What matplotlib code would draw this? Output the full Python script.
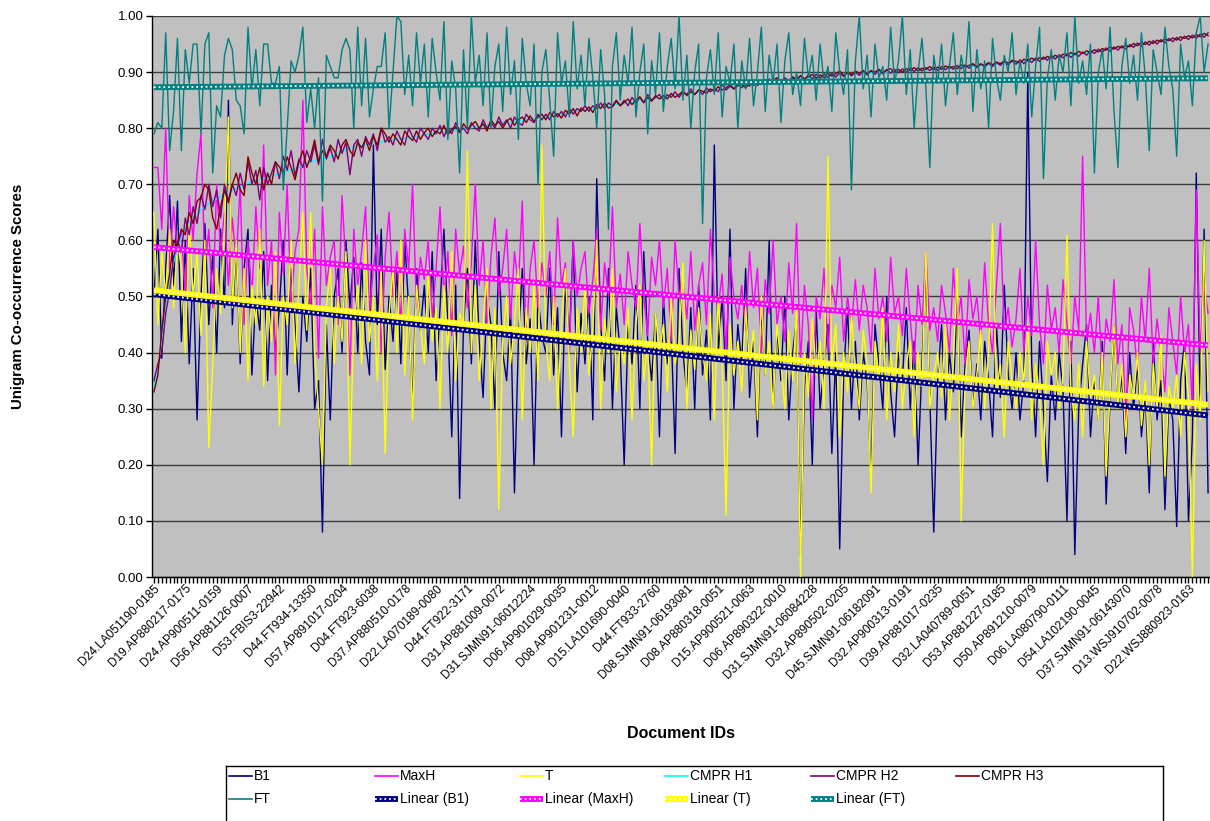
import numpy as np
import matplotlib
matplotlib.use("Agg")
import matplotlib.pyplot as plt
from matplotlib.ticker import FormatStrFormatter, FixedLocator

plt.rcParams['font.family'] = ['Liberation Sans', 'DejaVu Sans']

# ---------------- data ----------------
tick_labels = [
    "D24.LA051190-0185", "D19.AP880217-0175", "D24.AP900511-0159", "D56.AP881126-0007",
    "D53.FBIS3-22942", "D44.FT934-13350", "D57.AP891017-0204", "D04.FT923-6038",
    "D37.AP880510-0178", "D22.LA070189-0080", "D44.FT922-3171", "D31.AP881009-0072",
    "D31.SJMN91-06012224", "D06.AP901029-0035", "D08.AP901231-0012", "D15.LA101690-0040",
    "D44.FT933-2760", "D08.SJMN91-06193081", "D08.AP880318-0051", "D15.AP900521-0063",
    "D06.AP890322-0010", "D31.SJMN91-06084228", "D32.AP890502-0205", "D45.SJMN91-06182091",
    "D32.AP900313-0191", "D39.AP881017-0235", "D32.LA040789-0051", "D53.AP881227-0185",
    "D50.AP891210-0079", "D06.LA080790-0111", "D54.LA102190-0045", "D37.SJMN91-06143070",
    "D13.WSJ910702-0078", "D22.WSJ880923-0163",
]

b1 = [
    0.50, 0.62, 0.39, 0.55, 0.68, 0.52, 0.67, 0.42, 0.60, 0.38,
    0.55, 0.28, 0.50, 0.63, 0.45, 0.58, 0.40, 0.62, 0.48, 0.85,
    0.45, 0.60, 0.38, 0.55, 0.62, 0.36, 0.50, 0.44, 0.58, 0.35,
    0.52, 0.40, 0.48, 0.60, 0.36, 0.55, 0.45, 0.33, 0.50, 0.42,
    0.55, 0.30, 0.35, 0.08, 0.45, 0.28, 0.50, 0.55, 0.40, 0.60,
    0.48, 0.57, 0.40, 0.56, 0.42, 0.36, 0.77, 0.45, 0.62, 0.37,
    0.50, 0.42, 0.55, 0.38, 0.60, 0.48, 0.30, 0.55, 0.44, 0.52,
    0.40, 0.58, 0.35, 0.48, 0.62, 0.45, 0.25, 0.52, 0.14, 0.45,
    0.55, 0.38, 0.60, 0.42, 0.32, 0.50, 0.45, 0.30, 0.58, 0.40,
    0.35, 0.48, 0.15, 0.42, 0.55, 0.38, 0.46, 0.20, 0.50, 0.43,
    0.40, 0.55, 0.36, 0.48, 0.25, 0.52, 0.42, 0.60, 0.33, 0.47,
    0.38, 0.50, 0.28, 0.71, 0.45, 0.35, 0.55, 0.30, 0.48, 0.40,
    0.20, 0.45, 0.38, 0.52, 0.30, 0.58, 0.42, 0.35, 0.47, 0.25,
    0.50, 0.38, 0.44, 0.22, 0.55, 0.40, 0.33, 0.48, 0.30, 0.52,
    0.36, 0.44, 0.28, 0.77, 0.40, 0.50, 0.35, 0.62, 0.30, 0.45,
    0.38, 0.55, 0.32, 0.42, 0.25, 0.48, 0.36, 0.60, 0.30, 0.44,
    0.35, 0.50, 0.28, 0.40, 0.46, 0.04, 0.34, 0.42, 0.20, 0.48,
    0.30, 0.38, 0.45, 0.22, 0.40, 0.05, 0.36, 0.48, 0.30, 0.42,
    0.28, 0.40, 0.35, 0.18, 0.45, 0.38, 0.30, 0.50, 0.33, 0.25,
    0.40, 0.35, 0.48, 0.30, 0.42, 0.20, 0.38, 0.55, 0.32, 0.08,
    0.35, 0.45, 0.28, 0.40, 0.33, 0.50, 0.25, 0.38, 0.44, 0.30,
    0.38, 0.28, 0.42, 0.35, 0.25, 0.45, 0.32, 0.52, 0.36, 0.30,
    0.40, 0.28, 0.35, 0.90, 0.38, 0.25, 0.42, 0.30, 0.17, 0.36,
    0.28, 0.40, 0.33, 0.10, 0.42, 0.04, 0.30, 0.38, 0.45, 0.25,
    0.35, 0.28, 0.42, 0.13, 0.32, 0.45, 0.30, 0.36, 0.22, 0.40,
    0.30, 0.38, 0.25, 0.33, 0.15, 0.42, 0.28, 0.35, 0.12, 0.32,
    0.28, 0.09, 0.35, 0.42, 0.10, 0.25, 0.72, 0.30, 0.62, 0.15,
]

maxh = [
    0.73, 0.73, 0.62, 0.80, 0.55, 0.66, 0.58, 0.62, 0.50, 0.68,
    0.60, 0.72, 0.79, 0.55, 0.62, 0.48, 0.70, 0.58, 0.65, 0.52,
    0.64, 0.56, 0.70, 0.45, 0.60, 0.50, 0.66, 0.55, 0.77, 0.52,
    0.60, 0.36, 0.65, 0.54, 0.70, 0.48, 0.58, 0.62, 0.85, 0.55,
    0.48, 0.62, 0.39, 0.66, 0.52, 0.57, 0.60, 0.45, 0.68, 0.55,
    0.36, 0.62, 0.52, 0.58, 0.66, 0.47, 0.55, 0.61, 0.40, 0.57,
    0.65, 0.50, 0.58, 0.45, 0.62, 0.55, 0.70, 0.48, 0.57, 0.53,
    0.60, 0.46, 0.55, 0.66, 0.50, 0.58, 0.43, 0.62, 0.54, 0.59,
    0.48, 0.56, 0.70, 0.52, 0.60, 0.45, 0.57, 0.64, 0.50, 0.55,
    0.62, 0.46, 0.58, 0.52, 0.67, 0.42, 0.55, 0.60, 0.48, 0.56,
    0.50, 0.58, 0.45, 0.64, 0.52, 0.56, 0.40, 0.60, 0.50, 0.55,
    0.58, 0.47, 0.53, 0.62, 0.44, 0.56, 0.50, 0.66, 0.48, 0.54,
    0.45, 0.58, 0.52, 0.48, 0.63, 0.50, 0.43, 0.57, 0.52, 0.60,
    0.48, 0.55, 0.42, 0.60, 0.50, 0.53, 0.46, 0.58, 0.44, 0.52,
    0.56, 0.45, 0.62, 0.50, 0.48, 0.54, 0.40, 0.57, 0.50, 0.46,
    0.52, 0.44, 0.58, 0.48, 0.55, 0.40, 0.53, 0.47, 0.60, 0.45,
    0.50, 0.42, 0.56, 0.47, 0.63, 0.38, 0.52, 0.45, 0.28, 0.50,
    0.46, 0.55, 0.40, 0.52, 0.48, 0.57, 0.42, 0.50, 0.45, 0.53,
    0.44, 0.52, 0.48, 0.40, 0.55, 0.46, 0.50, 0.42, 0.57, 0.47,
    0.50, 0.43, 0.55, 0.46, 0.38, 0.52, 0.45, 0.58, 0.44, 0.48,
    0.42, 0.52, 0.47, 0.40, 0.55, 0.45, 0.50, 0.38, 0.53, 0.46,
    0.50, 0.42, 0.56, 0.45, 0.40, 0.52, 0.63, 0.44, 0.48, 0.41,
    0.46, 0.55, 0.40, 0.50, 0.43, 0.60, 0.45, 0.38, 0.52, 0.44,
    0.48, 0.40, 0.53, 0.45, 0.38, 0.50, 0.44, 0.75, 0.42, 0.47,
    0.40, 0.50, 0.36, 0.46, 0.42, 0.53, 0.38, 0.45, 0.28, 0.48,
    0.44, 0.37, 0.50, 0.42, 0.55, 0.38, 0.46, 0.40, 0.33, 0.48,
    0.42, 0.36, 0.50, 0.40, 0.45, 0.30, 0.69, 0.40, 0.52, 0.47,
]

t_scores = [
    0.65, 0.45, 0.58, 0.50, 0.62, 0.48, 0.60, 0.55, 0.40, 0.63,
    0.50, 0.58, 0.43, 0.60, 0.23, 0.38, 0.55, 0.47, 0.62, 0.82,
    0.48, 0.60, 0.40, 0.55, 0.35, 0.52, 0.45, 0.62, 0.34, 0.50,
    0.42, 0.58, 0.27, 0.50, 0.45, 0.60, 0.38, 0.52, 0.65, 0.44,
    0.65, 0.40, 0.30, 0.20, 0.48, 0.55, 0.38, 0.50, 0.42, 0.58,
    0.20, 0.45, 0.52, 0.38, 0.60, 0.42, 0.50, 0.35, 0.55, 0.22,
    0.47, 0.55, 0.40, 0.60, 0.36, 0.50, 0.28, 0.52, 0.45, 0.38,
    0.55, 0.42, 0.48, 0.30, 0.52, 0.40, 0.58, 0.35, 0.47, 0.45,
    0.76, 0.40, 0.52, 0.35, 0.45, 0.55, 0.30, 0.48, 0.12, 0.42,
    0.50, 0.38, 0.45, 0.55, 0.28, 0.48, 0.40, 0.52, 0.35, 0.77,
    0.42, 0.35, 0.50, 0.30, 0.45, 0.55, 0.38, 0.25, 0.48, 0.40,
    0.52, 0.36, 0.44, 0.60, 0.30, 0.46, 0.40, 0.55, 0.33, 0.42,
    0.38, 0.48, 0.28, 0.45, 0.52, 0.35, 0.42, 0.20, 0.47, 0.40,
    0.45, 0.33, 0.50, 0.38, 0.42, 0.56, 0.30, 0.44, 0.37, 0.48,
    0.40, 0.35, 0.47, 0.28, 0.50, 0.38, 0.11, 0.45, 0.36, 0.42,
    0.33, 0.48, 0.38, 0.44, 0.28, 0.50, 0.36, 0.42, 0.30, 0.45,
    0.38, 0.30, 0.44, 0.35, 0.48, 0.00, 0.40, 0.32, 0.46, 0.36,
    0.42, 0.30, 0.75, 0.38, 0.45, 0.25, 0.40, 0.33, 0.47, 0.36,
    0.30, 0.44, 0.38, 0.15, 0.42, 0.35, 0.48, 0.28, 0.40, 0.33,
    0.45, 0.30, 0.38, 0.42, 0.25, 0.40, 0.34, 0.58, 0.30, 0.36,
    0.40, 0.32, 0.45, 0.28, 0.38, 0.55, 0.10, 0.35, 0.42, 0.30,
    0.36, 0.44, 0.30, 0.40, 0.63, 0.33, 0.38, 0.25, 0.42, 0.35,
    0.30, 0.40, 0.35, 0.45, 0.28, 0.38, 0.32, 0.20, 0.42, 0.36,
    0.40, 0.30, 0.36, 0.61, 0.33, 0.28, 0.38, 0.25, 0.42, 0.32,
    0.36, 0.28, 0.40, 0.18, 0.33, 0.45, 0.30, 0.38, 0.25, 0.36,
    0.32, 0.40, 0.27, 0.35, 0.20, 0.38, 0.30, 0.43, 0.18, 0.34,
    0.30, 0.36, 0.25, 0.40, 0.32, 0.00, 0.38, 0.28, 0.60, 0.33,
]

cmpr_h1 = [
    0.340, 0.370, 0.420, 0.480, 0.530, 0.560, 0.585, 0.605, 0.620, 0.630,
    0.640, 0.648, 0.655, 0.660, 0.665, 0.670, 0.674, 0.678, 0.682, 0.686,
    0.690, 0.693, 0.696, 0.699, 0.702, 0.705, 0.707, 0.709, 0.711, 0.713,
    0.715, 0.717, 0.719, 0.721, 0.723, 0.725, 0.728, 0.731, 0.734, 0.737,
    0.740, 0.742, 0.744, 0.746, 0.748, 0.750, 0.753, 0.756, 0.759, 0.762,
    0.765, 0.766, 0.768, 0.769, 0.770, 0.772, 0.773, 0.774, 0.776, 0.777,
    0.778, 0.779, 0.780, 0.781, 0.782, 0.783, 0.784, 0.786, 0.787, 0.788,
    0.790, 0.791, 0.792, 0.793, 0.794, 0.795, 0.796, 0.797, 0.798, 0.799,
    0.800, 0.801, 0.802, 0.803, 0.804, 0.805, 0.806, 0.807, 0.808, 0.809,
    0.810, 0.811, 0.812, 0.813, 0.814, 0.815, 0.816, 0.817, 0.818, 0.819,
    0.820, 0.821, 0.822, 0.824, 0.825, 0.826, 0.828, 0.829, 0.830, 0.832,
    0.833, 0.834, 0.835, 0.836, 0.838, 0.839, 0.840, 0.841, 0.842, 0.843,
    0.845, 0.846, 0.847, 0.848, 0.849, 0.850, 0.851, 0.852, 0.853, 0.854,
    0.855, 0.856, 0.857, 0.858, 0.859, 0.860, 0.861, 0.862, 0.863, 0.864,
    0.865, 0.866, 0.867, 0.868, 0.869, 0.870, 0.871, 0.872, 0.873, 0.874,
    0.875, 0.876, 0.877, 0.878, 0.879, 0.880, 0.881, 0.882, 0.883, 0.884,
    0.885, 0.886, 0.886, 0.887, 0.888, 0.889, 0.889, 0.890, 0.891, 0.891,
    0.892, 0.893, 0.893, 0.894, 0.894, 0.895, 0.895, 0.896, 0.896, 0.897,
    0.897, 0.898, 0.898, 0.899, 0.899, 0.900, 0.900, 0.900, 0.901, 0.901,
    0.902, 0.902, 0.902, 0.903, 0.903, 0.904, 0.904, 0.904, 0.905, 0.905,
    0.906, 0.906, 0.907, 0.907, 0.908, 0.908, 0.909, 0.909, 0.910, 0.910,
    0.911, 0.911, 0.912, 0.913, 0.913, 0.914, 0.915, 0.915, 0.916, 0.917,
    0.918, 0.918, 0.919, 0.920, 0.921, 0.922, 0.923, 0.924, 0.925, 0.926,
    0.927, 0.928, 0.929, 0.930, 0.931, 0.932, 0.933, 0.934, 0.935, 0.936,
    0.938, 0.939, 0.940, 0.941, 0.942, 0.943, 0.944, 0.945, 0.946, 0.947,
    0.949, 0.950, 0.951, 0.952, 0.953, 0.954, 0.955, 0.956, 0.957, 0.958,
    0.959, 0.960, 0.961, 0.962, 0.963, 0.964, 0.965, 0.966, 0.967, 0.968,
]

cmpr_h2 = [
    0.350, 0.380, 0.400, 0.470, 0.510, 0.570, 0.600, 0.580, 0.640, 0.610,
    0.660, 0.630, 0.680, 0.655, 0.700, 0.660, 0.690, 0.640, 0.700, 0.670,
    0.700, 0.680, 0.720, 0.690, 0.740, 0.700, 0.725, 0.672, 0.730, 0.700,
    0.720, 0.740, 0.710, 0.750, 0.725, 0.760, 0.715, 0.745, 0.730, 0.760,
    0.740, 0.770, 0.735, 0.780, 0.745, 0.765, 0.740, 0.780, 0.755, 0.775,
    0.717, 0.770, 0.780, 0.750, 0.785, 0.770, 0.790, 0.760, 0.800, 0.775,
    0.785, 0.770, 0.795, 0.780, 0.770, 0.800, 0.785, 0.775, 0.800, 0.790,
    0.780, 0.800, 0.790, 0.805, 0.785, 0.800, 0.790, 0.810, 0.795, 0.800,
    0.790, 0.810, 0.800, 0.795, 0.815, 0.800, 0.810, 0.800, 0.820, 0.805,
    0.815, 0.800, 0.820, 0.810, 0.805, 0.825, 0.815, 0.810, 0.825, 0.815,
    0.825, 0.815, 0.830, 0.820, 0.830, 0.820, 0.835, 0.825, 0.835, 0.830,
    0.840, 0.830, 0.840, 0.835, 0.845, 0.835, 0.845, 0.840, 0.850, 0.840,
    0.850, 0.840, 0.855, 0.845, 0.855, 0.845, 0.860, 0.850, 0.855, 0.860,
    0.850, 0.860, 0.855, 0.865, 0.855, 0.865, 0.860, 0.870, 0.860, 0.868,
    0.860, 0.872, 0.865, 0.870, 0.865, 0.878, 0.868, 0.875, 0.870, 0.880,
    0.872, 0.880, 0.875, 0.885, 0.876, 0.882, 0.878, 0.888, 0.880, 0.886,
    0.882, 0.890, 0.884, 0.892, 0.886, 0.893, 0.887, 0.895, 0.888, 0.896,
    0.889, 0.897, 0.890, 0.898, 0.891, 0.899, 0.892, 0.900, 0.893, 0.900,
    0.894, 0.902, 0.895, 0.903, 0.896, 0.904, 0.897, 0.905, 0.898, 0.905,
    0.899, 0.906, 0.900, 0.907, 0.901, 0.908, 0.902, 0.908, 0.903, 0.909,
    0.903, 0.910, 0.904, 0.911, 0.905, 0.912, 0.906, 0.913, 0.907, 0.914,
    0.908, 0.915, 0.909, 0.916, 0.910, 0.917, 0.912, 0.919, 0.913, 0.920,
    0.914, 0.922, 0.915, 0.923, 0.917, 0.925, 0.919, 0.927, 0.921, 0.929,
    0.923, 0.931, 0.925, 0.933, 0.926, 0.934, 0.928, 0.936, 0.930, 0.938,
    0.933, 0.941, 0.935, 0.943, 0.937, 0.945, 0.939, 0.947, 0.941, 0.949,
    0.944, 0.952, 0.946, 0.954, 0.948, 0.956, 0.950, 0.958, 0.952, 0.960,
    0.954, 0.962, 0.956, 0.964, 0.958, 0.966, 0.960, 0.968, 0.962, 0.970,
]

cmpr_h3 = [
    0.330, 0.360, 0.440, 0.500, 0.540, 0.600, 0.590, 0.620, 0.610, 0.650,
    0.630, 0.670, 0.677, 0.700, 0.690, 0.640, 0.620, 0.660, 0.690, 0.667,
    0.700, 0.720, 0.690, 0.680, 0.749, 0.720, 0.700, 0.730, 0.690, 0.720,
    0.700, 0.740, 0.731, 0.720, 0.749, 0.730, 0.708, 0.740, 0.760, 0.730,
    0.750, 0.779, 0.740, 0.760, 0.750, 0.770, 0.760, 0.745, 0.770, 0.780,
    0.760, 0.750, 0.775, 0.765, 0.780, 0.760, 0.785, 0.770, 0.800, 0.790,
    0.775, 0.790, 0.780, 0.770, 0.795, 0.785, 0.778, 0.795, 0.780, 0.792,
    0.800, 0.785, 0.795, 0.790, 0.805, 0.788, 0.798, 0.803, 0.792, 0.808,
    0.798, 0.805, 0.812, 0.800, 0.808, 0.795, 0.815, 0.805, 0.812, 0.800,
    0.812, 0.818, 0.805, 0.815, 0.820, 0.810, 0.822, 0.812, 0.820, 0.825,
    0.815, 0.828, 0.820, 0.826, 0.818, 0.832, 0.825, 0.835, 0.822, 0.836,
    0.830, 0.838, 0.828, 0.842, 0.835, 0.845, 0.836, 0.838, 0.848, 0.840,
    0.846, 0.852, 0.842, 0.850, 0.856, 0.846, 0.855, 0.848, 0.858, 0.852,
    0.858, 0.852, 0.862, 0.855, 0.860, 0.866, 0.858, 0.865, 0.860, 0.868,
    0.866, 0.862, 0.870, 0.866, 0.874, 0.868, 0.872, 0.878, 0.870, 0.876,
    0.878, 0.872, 0.880, 0.876, 0.884, 0.878, 0.886, 0.880, 0.885, 0.890,
    0.884, 0.888, 0.882, 0.890, 0.886, 0.894, 0.888, 0.892, 0.896, 0.889,
    0.895, 0.890, 0.898, 0.893, 0.897, 0.902, 0.894, 0.899, 0.896, 0.902,
    0.898, 0.903, 0.897, 0.902, 0.900, 0.905, 0.899, 0.903, 0.906, 0.900,
    0.905, 0.900, 0.906, 0.903, 0.908, 0.902, 0.907, 0.905, 0.910, 0.904,
    0.909, 0.905, 0.911, 0.907, 0.910, 0.906, 0.913, 0.909, 0.912, 0.915,
    0.910, 0.914, 0.912, 0.917, 0.913, 0.918, 0.915, 0.920, 0.916, 0.921,
    0.919, 0.916, 0.923, 0.920, 0.925, 0.921, 0.926, 0.923, 0.928, 0.925,
    0.930, 0.926, 0.932, 0.929, 0.935, 0.931, 0.937, 0.933, 0.938, 0.935,
    0.940, 0.936, 0.942, 0.939, 0.945, 0.941, 0.946, 0.943, 0.948, 0.945,
    0.951, 0.947, 0.953, 0.949, 0.955, 0.951, 0.957, 0.954, 0.959, 0.956,
    0.961, 0.957, 0.963, 0.960, 0.965, 0.961, 0.967, 0.963, 0.969, 0.965,
]

ft = [
    0.79, 0.81, 0.80, 0.97, 0.76, 0.83, 0.96, 0.76, 0.94, 0.88,
    0.95, 0.95, 0.79, 0.95, 0.97, 0.72, 0.84, 0.82, 0.93, 0.96,
    0.94, 0.85, 0.84, 0.79, 0.98, 0.87, 0.94, 0.84, 0.95, 0.95,
    0.88, 0.88, 0.91, 0.69, 0.80, 0.92, 0.90, 0.93, 0.98, 0.81,
    0.87, 0.80, 0.89, 0.67, 0.93, 0.91, 0.89, 0.89, 0.94, 0.96,
    0.94, 0.80, 0.98, 0.84, 0.96, 0.82, 0.87, 0.91, 0.91, 0.97,
    0.80, 0.90, 1.00, 0.99, 0.86, 0.93, 0.84, 0.97, 0.88, 0.95,
    0.82, 0.96, 0.90, 0.85, 0.99, 0.78, 0.92, 0.87, 0.72, 0.94,
    0.80, 1.00, 0.88, 0.93, 0.84, 0.97, 0.80, 0.91, 0.95, 0.83,
    0.98, 0.86, 0.92, 0.78, 0.96, 0.88, 0.84, 0.95, 0.70, 0.90,
    0.94, 0.85, 0.75, 0.97, 0.88, 0.92, 0.82, 0.99, 0.87, 0.93,
    0.84, 0.96, 0.89, 0.80, 0.94, 0.86, 0.62, 0.91, 0.97, 0.85,
    0.93, 0.88, 0.98, 0.82, 0.90, 0.95, 0.79, 0.92, 0.86, 0.97,
    0.83, 0.91, 0.96, 0.87, 1.00, 0.85, 0.93, 0.80, 0.90, 0.95,
    0.63, 0.89, 0.94, 0.86, 0.97, 0.82, 0.91, 0.88, 0.95, 0.80,
    0.92, 0.87, 0.96, 0.84, 0.90, 0.98, 0.83, 0.93, 0.88, 0.95,
    0.81, 0.92, 0.97, 0.86, 0.90, 0.84, 0.96, 0.89, 0.93, 0.85,
    0.95, 0.88, 0.91, 0.83, 0.97, 0.90, 0.86, 0.94, 0.69, 0.92,
    1.00, 0.87, 0.93, 0.82, 0.95, 0.89, 0.91, 0.85, 0.98, 0.88,
    0.92, 1.00, 0.86, 0.94, 0.80, 0.90, 0.96, 0.87, 0.73, 0.93,
    0.88, 0.95, 0.84, 0.91, 0.97, 0.86, 0.93, 0.89, 0.99, 0.83,
    0.94, 0.87, 0.92, 0.80, 0.96, 0.89, 0.85, 0.93, 0.90, 0.97,
    0.86, 0.92, 0.88, 0.95, 0.82, 0.91, 0.98, 0.71, 0.89, 0.94,
    0.85, 0.93, 0.90, 0.97, 0.84, 1.00, 0.88, 0.92, 0.86, 0.95,
    0.72, 0.90, 0.94, 0.87, 0.98, 0.83, 0.73, 0.91, 0.96, 0.88,
    0.93, 0.85, 0.97, 0.89, 0.76, 0.94, 0.90, 0.86, 0.98, 0.91,
    0.87, 0.75, 0.95, 0.89, 0.92, 0.84, 0.97, 1.00, 0.90, 0.95,
]

# linear trend lines: value at first and at last document
trend_b1 = [0.504, 0.288]
trend_maxh = [0.588, 0.413]
trend_t = [0.511, 0.307]
trend_ft = [0.873, 0.889]

y_ticks = [0.00, 0.10, 0.20, 0.30, 0.40, 0.50, 0.60, 0.70, 0.80, 0.90, 1.00]

# ---------------- styling ----------------
W, H = 1210, 821
fig = plt.figure(figsize=(W / 100, H / 100), dpi=100)
fig.patch.set_facecolor('white')

def fx(px):
    return px / W

def fy(py):
    return 1 - py / H

ax = fig.add_axes([fx(152), fy(577), fx(1210) - fx(152), fy(16) - fy(577)])
ax.set_facecolor('#C0C0C0')

series = [
    (b1, '#000080'),
    (maxh, '#FF00FF'),
    (t_scores, '#FFFF00'),
    (cmpr_h1, '#00FFFF'),
    (cmpr_h2, '#800080'),
    (cmpr_h3, '#800000'),
    (ft, '#008080'),
]
for vals, col in series:
    ax.plot(np.arange(len(vals)), vals, color=col, lw=1.0, zorder=3)

n = len(b1)
trends = [(trend_b1, '#000080'), (trend_maxh, '#FF00FF'),
          (trend_t, '#FFFF00'), (trend_ft, '#008080')]
for tv, col in trends:
    ax.plot([0, n - 1], tv, color=col, lw=4.2, solid_capstyle='butt', zorder=5)
    ax.plot([0, n - 1], tv, color='white', lw=1.3, linestyle=(0, (1.0, 1.6)),
            solid_capstyle='butt', zorder=6)

ax.set_xlim(-0.5, n - 0.5)
ax.set_ylim(0, 1)
ax.set_yticks(y_ticks)
ax.yaxis.set_major_formatter(FormatStrFormatter('%.2f'))
ax.grid(axis='y', color='#3C3C3C', lw=1.0, zorder=1)
ax.set_axisbelow(True)

major_pos = [i * 8 for i in range(len(tick_labels))]
ax.set_xticks(major_pos)
ax.set_xticklabels(tick_labels, rotation=45, ha='right', va='top',
                   rotation_mode='anchor', fontsize=8.6)
ax.xaxis.set_minor_locator(FixedLocator(np.arange(n)))
ax.tick_params(axis='x', which='both', direction='out', length=4, width=1,
               color='black', pad=0)
ax.tick_params(axis='y', direction='out', length=4, width=1, labelsize=9.5, pad=2)

for s in ['top', 'right']:
    ax.spines[s].set_visible(False)
for s in ['left', 'bottom']:
    ax.spines[s].set_color('black')
    ax.spines[s].set_linewidth(1.0)

fig.text(fx(18), fy(296), 'Unigram Co-occurrence Scores', rotation=90,
         ha='center', va='center', fontsize=10.8, fontweight='bold')
fig.text(fx(681), fy(733), 'Document IDs', ha='center', va='center',
         fontsize=11.5, fontweight='bold')

# ---------------- legend ----------------
lax = fig.add_axes([fx(226), 0, fx(1163) - fx(226), fy(766)])
lax.set_xlim(226, 1163)
lax.set_ylim(821, 766)
lax.set_xticks([])
lax.set_yticks([])
lax.spines['bottom'].set_visible(False)
for s in ['left', 'top', 'right']:
    lax.spines[s].set_color('black')
    lax.spines[s].set_linewidth(1.0)

legend_names = ["B1", "MaxH", "T", "CMPR H1", "CMPR H2", "CMPR H3",
                "FT", "Linear (B1)", "Linear (MaxH)", "Linear (T)", "Linear (FT)"]
legend_colors = ['#000080', '#FF00FF', '#FFFF00', '#00FFFF', '#800080', '#800000',
                 '#008080', '#000080', '#FF00FF', '#FFFF00', '#008080']
legend_trend = [False] * 7 + [True] * 4
col_x = [229, 375, 520, 665, 811, 956]
row_y = [776, 799]
for k, (name, col, tr) in enumerate(zip(legend_names, legend_colors, legend_trend)):
    r, c = divmod(k, 6)
    x0 = col_x[c]
    y0 = row_y[r]
    if tr:
        lax.plot([x0, x0 + 23], [y0, y0], color=col, lw=4.2, solid_capstyle='butt')
        lax.plot([x0, x0 + 23], [y0, y0], color='white', lw=1.3,
                 linestyle=(0, (1.0, 1.6)), solid_capstyle='butt')
    else:
        lax.plot([x0, x0 + 23], [y0, y0], color=col, lw=1.2)
    lax.text(x0 + 25, y0, name, ha='left', va='center', fontsize=10)

fig.savefig('out.png', dpi=100, facecolor='white')
